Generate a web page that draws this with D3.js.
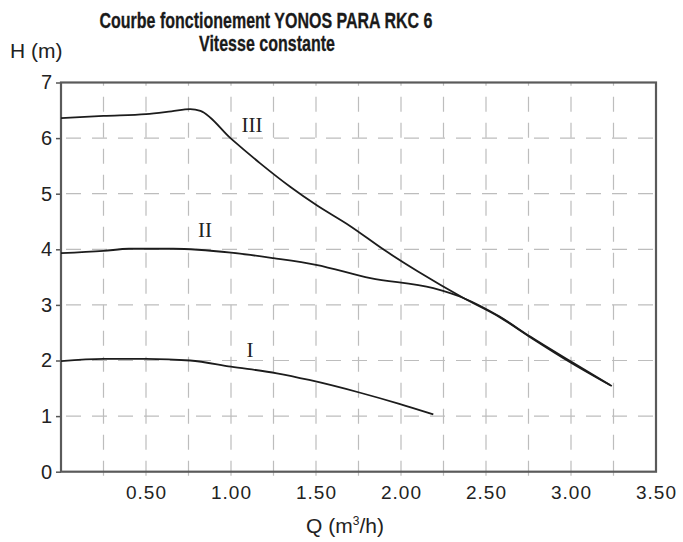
<!DOCTYPE html>
<html><head><meta charset="utf-8">
<script src="https://cdn.jsdelivr.net/npm/d3@7"></script>
<style>body{margin:0;background:#fff}svg{display:block}</style>
</head><body>
<svg id="c" width="683" height="542"></svg>
<script>
// ---- data ----
const titleLines = ["Courbe fonctionement YONOS PARA RKC 6", "Vitesse constante"];
const xTicks = [0.5, 1.0, 1.5, 2.0, 2.5, 3.0, 3.5];
const xGrid = [0.25,0.5,0.75,1,1.25,1.5,1.75,2,2.25,2.5,2.75,3,3.25];
const yTicks = [0,1,2,3,4,5,6,7];
const seriesNames = ["III", "II", "I"];
const q3 = [0, 0.25, 0.5, 0.65, 0.76, 0.82, 1.0, 1.17, 1.35, 1.5, 1.7, 1.9, 2.1, 2.37, 2.58, 2.76, 3.0, 3.24];
const h3 = [6.36, 6.40, 6.43, 6.48, 6.52, 6.49, 5.99, 5.55, 5.12, 4.80, 4.42, 3.99, 3.60, 3.12, 2.78, 2.42, 1.96, 1.54];
const q2 = [0, 0.25, 0.4, 0.66, 1.0, 1.25, 1.5, 1.82, 2.19, 2.37, 2.58, 2.76, 3.0, 3.23];
const h2 = [3.93, 3.97, 4.01, 4.01, 3.94, 3.84, 3.72, 3.48, 3.30, 3.12, 2.79, 2.43, 1.98, 1.56];
const q1 = [0, 0.25, 0.5, 0.76, 1.0, 1.27, 1.46, 1.76, 1.99, 2.19];
const h1 = [1.99, 2.03, 2.03, 2.0, 1.89, 1.77, 1.65, 1.42, 1.22, 1.03];
const labelQ = [1.124, 0.847, 1.112];
const labelH = [6.11, 4.22, 2.06];

// ---- chart ----
const svg = d3.select("#c");
const x = d3.scaleLinear().domain([0, 3.5]).range([61, 656]);
const y = d3.scaleLinear().domain([0, 7]).range([471.7, 82.5]);

// title
svg.append("text").attr("x", 266).attr("y", 28).attr("text-anchor", "middle")
  .attr("font-family", "Liberation Sans Narrow, Arial Narrow, sans-serif").attr("font-weight", "bold")
  .attr("font-size", 21.5).attr("textLength", 333).attr("lengthAdjust", "spacingAndGlyphs")
  .attr("fill", "#1a1a1a").attr("stroke", "#1a1a1a").attr("stroke-width", 0.3).text(titleLines[0]);
svg.append("text").attr("x", 267).attr("y", 51).attr("text-anchor", "middle")
  .attr("font-family", "Liberation Sans Narrow, Arial Narrow, sans-serif").attr("font-weight", "bold")
  .attr("font-size", 21.5).attr("textLength", 136).attr("lengthAdjust", "spacingAndGlyphs")
  .attr("fill", "#1a1a1a").attr("stroke", "#1a1a1a").attr("stroke-width", 0.3).text(titleLines[1]);

// grid
const grid = svg.append("g").attr("stroke", "#bdbdbd").attr("stroke-width", 1.2);
grid.selectAll("line.v").data(xGrid).join("line")
  .attr("x1", d => x(d)).attr("x2", d => x(d)).attr("y1", y(0) + 4).attr("y2", y(7))
  .attr("stroke-dasharray", "15,11");
grid.selectAll("line.h").data(yTicks.slice(1, 7)).join("line").attr("class", "h")
  .attr("x1", x(0)).attr("x2", x(3.5)).attr("y1", d => y(d)).attr("y2", d => y(d))
  .attr("stroke-dasharray", "15,11").attr("stroke-dashoffset", -5);

// axes
const xAxis = d3.axisBottom(x).tickValues(xTicks).tickFormat(d3.format(".2f")).tickSize(0).tickPadding(14);
const gx = svg.append("g").attr("transform", `translate(0,${y(0)})`).call(xAxis);
gx.select(".domain").remove();
gx.selectAll("text").attr("font-family", "Liberation Sans, Arial, sans-serif").attr("font-size", 19)
  .attr("letter-spacing", 1).attr("fill", "#222");

const yAxis = d3.axisLeft(y).tickValues(yTicks).tickFormat(d3.format("d")).tickSize(5).tickPadding(4);
const gy = svg.append("g").attr("transform", `translate(${x(0)},0)`).call(yAxis);
gy.select(".domain").remove();
gy.selectAll("line").attr("stroke", "#555").attr("stroke-width", 1.5);
gy.selectAll("text").attr("font-family", "Liberation Sans, Arial, sans-serif").attr("font-size", 20)
  .attr("fill", "#222");

// frame
svg.append("rect").attr("x", x(0)).attr("y", y(7)).attr("width", x(3.5) - x(0)).attr("height", y(0) - y(7))
  .attr("fill", "none").attr("stroke", "#5a5a5a").attr("stroke-width", 2.2);

// curves
const series = [d3.zip(q3, h3), d3.zip(q2, h2), d3.zip(q1, h1)];
const line = d3.line().x(d => x(d[0])).y(d => y(d[1])).curve(d3.curveMonotoneX);
svg.append("g").selectAll("path").data(series).join("path")
  .attr("d", line).attr("fill", "none").attr("stroke", "#1c1c1c").attr("stroke-width", 1.8);

svg.append("g").selectAll("text").data(seriesNames).join("text")
  .attr("x", (d, i) => x(labelQ[i])).attr("y", (d, i) => y(labelH[i]))
  .attr("text-anchor", "middle").attr("font-family", "Liberation Serif, Times New Roman, serif")
  .attr("font-size", 21).attr("fill", "#222").text(d => d);

// axis titles
svg.append("text").attr("x", 10).attr("y", 58).attr("font-family", "Liberation Sans, Arial, sans-serif")
  .attr("font-size", 21).attr("fill", "#222").text("H (m)");
const qt = svg.append("text").attr("x", 345).attr("y", 533).attr("text-anchor", "middle")
  .attr("font-family", "Liberation Sans, Arial, sans-serif").attr("font-size", 21).attr("fill", "#222");
qt.append("tspan").text("Q (m");
qt.append("tspan").attr("font-size", 12).attr("dy", -8).text("3");
qt.append("tspan").attr("dy", 8).text("/h)");
</script>
</body></html>
